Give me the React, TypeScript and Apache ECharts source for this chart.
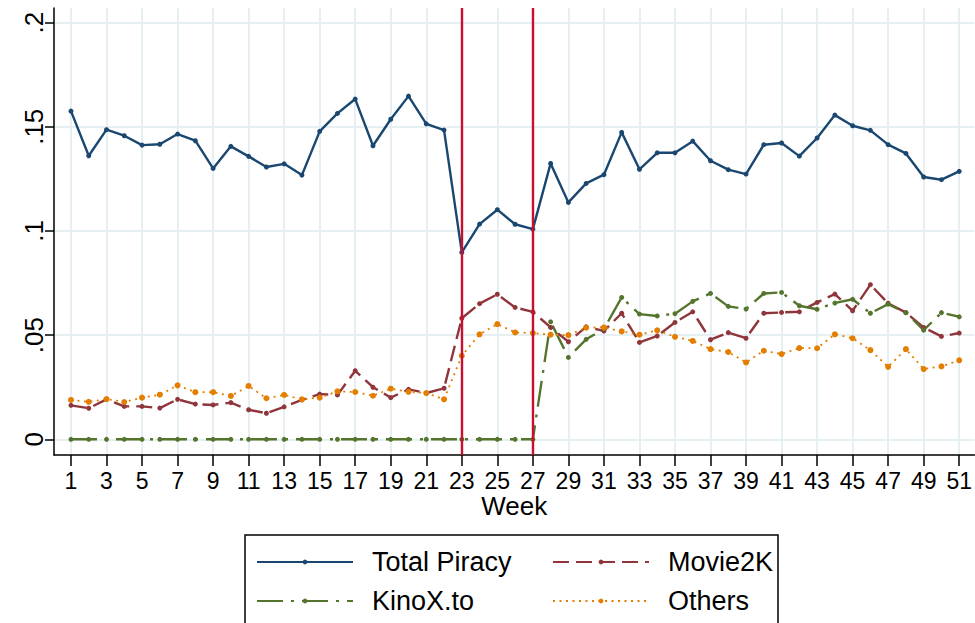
import React, { useEffect, useRef } from 'react';
import * as echarts from 'echarts';

// Weeks 1..51 (x positions of every observation)
const weeks: number[] = Array.from({ length: 51 }, (_, i) => i + 1);
const xTickWeeks = [1, 3, 5, 7, 9, 11, 13, 15, 17, 19, 21, 23, 25, 27, 29, 31, 33, 35, 37, 39, 41, 43, 45, 47, 49, 51];
const yTicks = [0, 0.05, 0.1, 0.15, 0.2];
const eventWeeks = [23, 27];

const totalPiracy = [
  0.1575, 0.1361, 0.1486, 0.1457, 0.1412, 0.1416, 0.1465, 0.1433, 0.1300, 0.1406, 0.1358, 0.1307, 0.1322,
  0.1268, 0.1478, 0.1564, 0.1633, 0.1409, 0.1536, 0.1647, 0.1514, 0.1484, 0.0897, 0.1033, 0.1102, 0.1032, 0.1009,
  0.1324, 0.1137, 0.1228, 0.1270, 0.1473, 0.1296, 0.1375, 0.1375, 0.1431, 0.1337, 0.1294, 0.1273, 0.1414,
  0.1422, 0.1359, 0.1446, 0.1556, 0.1505, 0.1483, 0.1414, 0.1372, 0.1259, 0.1246, 0.1286,
];
const movie2k = [
  0.0163, 0.0149, 0.0192, 0.0158, 0.0158, 0.0150, 0.0192, 0.0169, 0.0165, 0.0176, 0.0142, 0.0125, 0.0156,
  0.0189, 0.0217, 0.0213, 0.0329, 0.0250, 0.0200, 0.0240, 0.0222, 0.0245, 0.0581, 0.0651, 0.0696, 0.0633, 0.0612,
  0.0537, 0.0468, 0.0540, 0.0520, 0.0605, 0.0465, 0.0496, 0.0561, 0.0612, 0.0478, 0.0512, 0.0485, 0.0605,
  0.0609, 0.0612, 0.0657, 0.0697, 0.0617, 0.0742, 0.0653, 0.0608, 0.0537, 0.0494, 0.0510,
];
const kinox = [
  0, 0, 0, 0, 0, 0, 0, 0, 0, 0, 0, 0, 0,
  0, 0, 0, 0, 0, 0, 0, 0, 0, 0, 0, 0, 0, 0,
  0.0564, 0.0393, 0.0480, 0.0530, 0.0681, 0.0601, 0.0592, 0.0603, 0.0662, 0.0700, 0.0638, 0.0625, 0.0700,
  0.0705, 0.0641, 0.0624, 0.0654, 0.0672, 0.0605, 0.0649, 0.0608, 0.0524, 0.0608, 0.0588,
];
const others = [
  0.0189, 0.0180, 0.0193, 0.0179, 0.0200, 0.0214, 0.0259, 0.0226, 0.0226, 0.0208, 0.0256, 0.0197, 0.0213,
  0.0192, 0.0200, 0.0230, 0.0227, 0.0209, 0.0243, 0.0228, 0.0222, 0.0192, 0.0401, 0.0504, 0.0553, 0.0513, 0.0510,
  0.0502, 0.0500, 0.0536, 0.0537, 0.0518, 0.0502, 0.0523, 0.0492, 0.0472, 0.0433, 0.0419, 0.0369, 0.0425,
  0.0409, 0.0438, 0.0437, 0.0504, 0.0485, 0.0428, 0.0348, 0.0433, 0.0337, 0.0350, 0.0379,
];

const seriesNames = ['Total Piracy', 'Movie2K', 'KinoX.to', 'Others'];

export default function App() {
  const ref = useRef<HTMLDivElement>(null);
  useEffect(() => {
    if (!ref.current) return;
    const chart = echarts.init(ref.current, null, { renderer: 'svg' });
    const font = "'Liberation Sans', Arial, Helvetica, sans-serif";
    const pair = (arr: number[]) => arr.map((v, i) => [weeks[i], v]);
    const gridColor = '#e6eff1';
    const legendBase = {
      orient: 'horizontal',
      padding: 0,
      itemWidth: 96,
      itemHeight: 6,
      selectedMode: false,
      textStyle: { fontFamily: font, fontSize: 27, color: '#000', lineHeight: 30, padding: [0, 0, 0, 14] },
    };
    const yFmt = (v: number) => {
      if (Math.abs(v) < 1e-9) return '0';
      return String(+v.toFixed(2)).replace(/^0\./, '.');
    };
    chart.setOption({
      animation: false,
      backgroundColor: '#fff',
      textStyle: { fontFamily: font },
      grid: { left: 54, right: 0, top: 8, bottom: 168, containLabel: false },
      xAxis: {
        type: 'value',
        min: 0.044,
        max: 51.86,
        name: 'Week',
        nameLocation: 'middle',
        nameGap: 38,
        nameMoveOverlap: false,
        nameTextStyle: { fontFamily: font, fontSize: 26, color: '#000' },
        axisLine: { show: true, onZero: false, lineStyle: { color: '#000', width: 1.5 } },
        axisTick: { show: true, length: 11, customValues: xTickWeeks, lineStyle: { color: '#000', width: 1.5 } },
        axisLabel: {
          customValues: xTickWeeks,
          fontFamily: font,
          fontSize: 23,
          color: '#000',
          margin: 14,
          formatter: (v: number) => String(Math.round(v)),
        },
        splitLine: { show: true, lineStyle: { color: gridColor, width: 2 } },
      },
      yAxis: {
        type: 'value',
        min: -0.00753,
        max: 0.207,
        axisLine: { show: true, onZero: false, lineStyle: { color: '#000', width: 1.5 } },
        axisTick: { show: true, length: 9, customValues: yTicks, lineStyle: { color: '#000', width: 1.5 } },
        axisLabel: {
          customValues: yTicks,
          rotate: 90,
          fontFamily: font,
          fontSize: 26,
          color: '#000',
          margin: 7,
          formatter: yFmt,
        },
        splitLine: { show: true, lineStyle: { color: gridColor, width: 2 } },
      },
      legend: [
        { ...legendBase, data: [seriesNames[0]], left: 256, top: 547 },
        { ...legendBase, data: [seriesNames[1]], left: 552, top: 547 },
        { ...legendBase, data: [seriesNames[2]], left: 256, top: 586 },
        { ...legendBase, data: [seriesNames[3]], left: 552, top: 586 },
      ],
      graphic: [
        {
          type: 'rect',
          silent: true,
          shape: { x: 245, y: 535, width: 533, height: 120 },
          style: { fill: 'none', stroke: '#000', lineWidth: 1.5 },
          z: 10,
        },
      ],
      series: [
        {
          name: seriesNames[0],
          type: 'line',
          data: pair(totalPiracy),
          symbol: 'circle',
          symbolSize: 5,
          color: '#1a476f',
          lineStyle: { color: '#1a476f', width: 2.4, type: 'solid' },
          itemStyle: { color: '#1a476f' },
          markLine: {
            silent: true,
            symbol: ['none', 'none'],
            label: { show: false },
            lineStyle: { color: '#c8102e', width: 2.4, type: 'solid' },
            data: eventWeeks.map((w) => ({ xAxis: w })),
          },
        },
        {
          name: seriesNames[1],
          type: 'line',
          data: pair(movie2k),
          symbol: 'circle',
          symbolSize: 5,
          color: '#90353b',
          lineStyle: { color: '#90353b', width: 2.4, type: [16, 7] },
          itemStyle: { color: '#90353b' },
        },
        {
          name: seriesNames[2],
          type: 'line',
          data: pair(kinox),
          symbol: 'circle',
          symbolSize: 5,
          color: '#55752f',
          lineStyle: { color: '#55752f', width: 2.4, type: [26, 8, 3, 8] },
          itemStyle: { color: '#55752f' },
        },
        {
          name: seriesNames[3],
          type: 'line',
          data: pair(others),
          symbol: 'circle',
          symbolSize: 6,
          color: '#e37e00',
          lineStyle: { color: '#e37e00', width: 1.8, type: [2, 4.5] },
          itemStyle: { color: '#e37e00' },
        },
      ],
    });
    return () => chart.dispose();
  }, []);
  return <div ref={ref} style={{ position: 'fixed', left: 0, top: 0, width: 975, height: 623 }} />;
}
